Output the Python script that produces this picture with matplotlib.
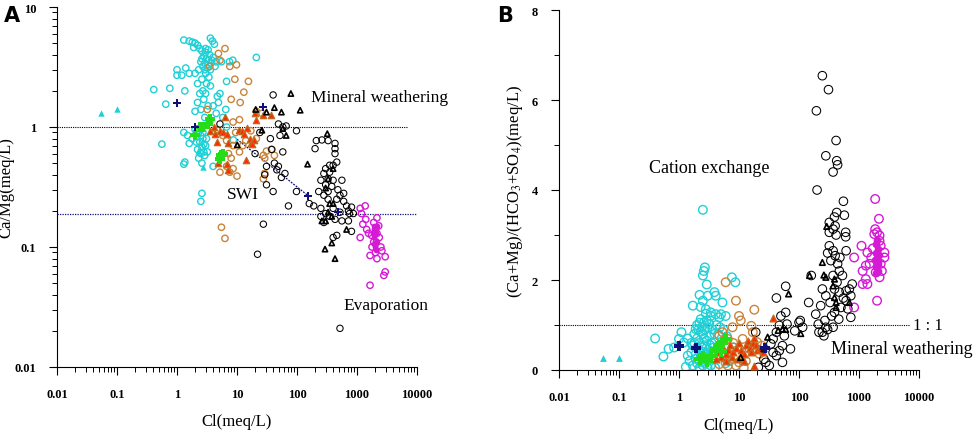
import matplotlib
matplotlib.use("Agg")
import matplotlib.pyplot as plt
from matplotlib.ticker import LogLocator, NullFormatter, FixedLocator, FuncFormatter

plt.rcParams["font.family"] = ["Liberation Serif", "DejaVu Serif"]
plt.rcParams["mathtext.fontset"] = "stix"

# ---- panel A: Cl (meq/L) vs Ca/Mg (meq/L), pairs of (cl, ratio) ----
a_cyan_circle = [
    (1.3, 5.3), (1.6, 5.2), (1.8, 5.1), (2.0, 5.0), (2.2, 4.8), (1.9, 4.6), (2.4, 4.5), (2.6, 4.3),
    (3.0, 4.2), (3.3, 4.4), (3.6, 5.5), (3.9, 5.2), (4.2, 4.9), (3.5, 4.0), (2.8, 3.9), (3.1, 3.7),
    (3.4, 3.6), (2.5, 3.5), (2.9, 3.4), (3.7, 3.4), (4.0, 3.8), (4.5, 3.5), (2.7, 3.2), (3.2, 3.1),
    (3.6, 3.0), (2.3, 3.0), (4.3, 3.2), (1.6, 2.8), (1.4, 3.1), (1.2, 2.7), (1.0, 2.7), (2.0, 2.8),
    (3.0, 2.8), (3.4, 2.6), (2.6, 2.5), (2.2, 2.3), (3.1, 2.3), (3.6, 2.2), (2.7, 2.0), (3.0, 1.9),
    (2.4, 1.9), (2.2, 1.6), (2.8, 1.7), (3.3, 1.5), (4.0, 1.5), (4.7, 1.8), (4.9, 1.6), (5.2, 1.9),
    (6.7, 2.4), (7.5, 3.5), (8.5, 3.6), (5.5, 3.5), (21, 3.8), (0.41, 2.05), (0.76, 2.1), (0.65, 1.55),
    (1.35, 2.0), (1.0, 3.0), (2.9, 3.0), (3.3, 3.3), (3.8, 3.6), (2.6, 3.7), (3.0, 4.5),
    (1.3, 0.9), (1.5, 0.85), (1.8, 0.8), (2.0, 0.95), (2.3, 0.9), (2.5, 0.85), (2.7, 0.8), (2.4, 0.75),
    (2.8, 0.72), (3.0, 0.7), (2.6, 0.68), (2.2, 0.65), (3.2, 0.62), (2.5, 0.6), (2.9, 0.58), (2.3, 0.55),
    (2.6, 0.5), (4.0, 0.47), (1.3, 0.49), (1.35, 0.51), (0.56, 0.72), (2.6, 0.28), (2.5, 0.24),
    (1.6, 0.73), (2.0, 1.35), (2.5, 1.4), (2.9, 1.2), (3.5, 1.1), (6.7, 1.0), (8.7, 0.78), (6.5, 1.4),
    (4.5, 1.3), (5.8, 1.2), (2.7, 0.9), (3.1, 0.8), (2.1, 0.75), (2.8, 0.62),
]
a_cyan_triangle = [(0.055, 1.3), (0.1, 1.42), (2.2, 0.63), (2.75, 0.46)]
a_orange_circle = [
    (4.9, 4.1), (6.3, 4.5), (9.8, 3.3), (7.6, 3.2), (9.2, 2.5), (15.5, 2.4), (13, 1.95), (11.3, 1.6),
    (8.0, 1.7), (5.2, 3.6), (3.5, 3.2), (3.2, 1.4), (8.6, 1.1), (11, 1.15), (17, 0.93), (14, 0.77),
    (8.6, 0.7), (7.2, 0.6), (8.0, 0.55), (11, 0.62), (8.6, 0.45), (10, 0.39), (7.6, 0.42), (6.7, 0.47),
    (5.2, 0.42), (5.5, 0.146), (6.3, 0.118), (27.5, 0.58), (31, 0.63), (37.5, 0.65), (29, 0.55),
    (21, 0.8), (26, 1.3), (21, 1.35), (29, 0.41), (42, 0.58), (4.6, 0.95), (6.7, 0.77), (27.5, 0.37),
    (9.5, 0.9), (12.5, 0.7), (5.8, 0.85),
]
a_red_triangle = [
    (4.1, 1.0), (5.2, 0.93), (4.3, 0.88), (5.9, 0.9), (6.7, 0.88), (4.6, 0.75), (7.2, 0.73), (6.3, 1.2),
    (11, 0.95), (12, 0.93), (13, 0.88), (16.5, 0.8), (17, 0.74), (19, 0.78), (14.5, 0.98), (20, 1.3),
    (27.5, 1.25), (37.5, 1.25), (4.9, 0.5), (6.7, 0.49), (7.2, 0.44), (14, 0.53), (3.6, 0.93),
    (21, 1.15), (18, 0.72),
]
a_green_plus = [(2.0, 0.85), (2.4, 1.0), (2.75, 1.0), (3.5, 1.17), (3.3, 1.05), (5.5, 0.58), (5.2, 0.54),
                (5.9, 0.6)]
a_navy_plus = [(1.0, 1.6), (2.0, 1.0), (27.5, 1.47), (155, 0.265), (490, 0.195)]
a_black_circle = [
    (40, 1.85), (98, 0.93), (49, 1.06), (58, 1.0), (66, 1.02), (52, 0.85), (36, 0.8), (38, 0.65),
    (58, 0.62), (42, 0.5), (49, 0.47), (46, 0.44), (55, 0.38), (31, 0.47), (29, 0.4), (31, 0.33),
    (40, 0.29), (63, 0.41), (98, 0.29), (72, 0.22), (22, 0.087), (27.5, 0.155), (520, 0.021), (5.2, 1.06),
    (200, 0.66), (210, 0.77), (260, 0.78), (330, 0.77), (430, 0.73), (430, 0.66), (430, 0.6), (460, 0.51),
    (400, 0.48), (350, 0.48), (300, 0.45), (350, 0.42), (280, 0.41), (330, 0.37), (400, 0.36), (560, 0.36),
    (250, 0.36), (300, 0.33), (380, 0.32), (230, 0.29), (280, 0.27), (330, 0.25), (460, 0.25), (600, 0.24),
    (670, 0.22), (810, 0.215), (190, 0.22), (250, 0.21), (300, 0.19), (350, 0.18), (430, 0.17),
    (560, 0.165), (720, 0.165), (250, 0.18), (280, 0.16), (400, 0.12), (460, 0.125), (750, 0.19),
    (520, 0.195), (400, 0.21), (520, 0.27), (330, 0.29), (720, 0.2), (870, 0.19), (810, 0.135),
    (20, 0.6), (24, 0.9), (160, 0.23), (600, 0.28), (480, 0.3),
]
a_black_triangle = [
    (79, 1.9), (113, 1.38), (20.5, 1.4), (31, 1.33), (42, 1.45), (55, 1.33), (26, 0.94), (58, 0.97),
    (66, 0.85), (10.1, 0.71), (150, 0.49), (320, 0.88), (293, 0.096), (380, 0.108), (430, 0.08),
    (670, 0.14), (330, 0.37), (350, 0.23), (400, 0.23), (330, 0.195), (300, 0.165), (380, 0.18),
    (260, 0.165), (300, 0.31), (400, 0.45),
]
a_magenta_circle = [
    (1130, 0.21), (1370, 0.22), (1190, 0.19), (1250, 0.155), (1450, 0.14), (1130, 0.12), (1750, 0.125),
    (2150, 0.175), (2150, 0.13), (2350, 0.12), (2500, 0.1), (2600, 0.093), (2950, 0.083), (2030, 0.09),
    (1650, 0.085), (2150, 0.08), (2950, 0.062), (2800, 0.058), (1650, 0.048), (1560, 0.13), (1900, 0.11),
    (1780, 0.1), (2030, 0.14), (1400, 0.17), (2300, 0.15), (1900, 0.16), (2100, 0.11),
]
a_magenta_fill = [(1900, 0.15), (2000, 0.14), (2100, 0.13), (1950, 0.12), (2050, 0.11), (1900, 0.105),
                  (2000, 0.1), (2100, 0.095), (1850, 0.13), (2150, 0.15)]

# ---- panel B: Cl (meq/L) vs (Ca+Mg)/(HCO3+SO4) ----
b_cyan_circle = [
    (2.5, 3.56), (2.6, 2.2), (2.5, 2.1), (2.7, 2.28), (2.9, 1.9), (2.2, 1.67), (3.9, 1.73), (4.1, 1.65),
    (3.0, 1.65), (5.3, 1.5), (7.6, 2.06), (8.7, 1.95), (1.7, 1.43), (2.5, 1.54), (2.8, 1.35), (3.4, 1.28),
    (4.1, 1.24), (5.0, 1.24), (2.3, 1.13), (3.2, 1.02), (4.7, 1.17), (6.0, 1.2), (0.4, 0.7), (0.55, 0.3),
    (0.67, 0.47), (0.83, 0.5), (1.1, 0.84), (1.0, 0.69), (1.2, 0.61), (1.3, 0.07), (1.4, 0.32),
    (1.6, 0.39), (1.7, 0.54), (1.9, 0.91), (1.8, 0.8), (2.0, 0.7), (2.2, 0.6), (2.4, 0.5), (2.6, 0.4),
    (2.8, 0.3), (2.2, 0.2), (2.5, 0.1), (3.0, 0.05), (2.0, 0.15), (1.9, 0.35), (2.3, 0.85), (2.7, 0.9),
    (3.2, 0.75), (3.5, 0.6), (3.8, 0.5), (3.0, 0.2), (2.1, 0.45), (2.9, 0.65), (3.3, 0.35), (2.4, 0.95),
    (2.6, 1.05), (2.0, 1.0), (3.6, 0.9), (4.2, 1.0), (4.8, 0.95), (4.5, 0.8), (5.5, 0.9), (6.3, 0.75),
    (7.0, 0.2), (6.0, 0.15), (4.0, 0.05), (8.0, 0.5), (2.3, 0.3), (2.7, 0.15), (3.4, 0.1), (1.5, 0.2),
    (2.1, 0.9), (2.9, 1.1), (3.1, 0.45), (2.4, 0.25), (2.7, 0.55), (1.8, 0.6), (2.2, 0.05), (2.6, 0.7),
    (3.6, 0.25), (3.9, 0.8), (1.7, 0.1), (2.0, 0.5), (3.4, 1.2), (2.8, 1.25), (2.3, 1.4), (1.4, 0.7),
    (1.9, 0.25), (2.5, 0.8), (3.0, 0.95), (3.3, 0.55), (2.2, 1.05), (2.7, 0.35), (1.6, 0.6), (3.7, 0.4),
]
b_cyan_triangle = [(0.055, 0.27), (0.1, 0.27)]
b_orange_circle = [
    (6.0, 1.95), (8.9, 1.54), (18, 1.34), (7.8, 0.95), (10.7, 1.1), (16, 0.98), (10, 1.2), (5.3, 0.84),
    (4.7, 0.76), (6.5, 0.69), (8.2, 0.5), (10, 0.17), (8.9, 0.1), (13, 0.2), (15, 0.47), (20, 0.62),
    (24, 0.54), (22, 0.36), (7.3, 0.4), (5.7, 0.28), (4.7, 0.13), (4.1, 0.32), (11.5, 0.69), (17, 0.84),
    (8.0, 0.6), (12, 0.05), (6.5, 0.1),
]
b_red_triangle = [
    (37, 1.15), (18, 0.1), (4.5, 0.4), (5.0, 0.3), (5.5, 0.5), (6.0, 0.35), (6.5, 0.45), (7.0, 0.55),
    (7.5, 0.3), (8.0, 0.4), (9.0, 0.5), (10, 0.6), (11, 0.45), (12, 0.35), (13, 0.55), (14, 0.65),
    (15, 0.5), (16, 0.4), (17, 0.6), (18, 0.72), (19, 0.55), (20, 0.45), (4.2, 0.25), (6.0, 0.2),
    (9.5, 0.25), (12, 0.2), (22, 0.5), (25, 0.4),
]
b_green_plus = [(2.9, 0.2), (2.5, 0.28), (2.2, 0.25), (3.4, 0.32), (4.7, 0.54), (5.3, 0.61), (6.0, 0.69),
                (5.0, 0.43), (4.1, 0.47)]
b_navy_plus = [(1.0, 0.54), (1.9, 0.48), (27.5, 0.48)]
b_black_circle = [
    (245, 6.54), (310, 6.23), (195, 5.76), (415, 5.1), (280, 4.76), (425, 4.65), (440, 4.56), (370, 4.4),
    (200, 4.0), (550, 3.75), (425, 3.5), (390, 3.4), (320, 3.28), (400, 3.2), (570, 3.44), (370, 3.13),
    (320, 3.06), (415, 3.0), (600, 3.06), (600, 2.96), (320, 2.76), (370, 2.65), (400, 2.54), (300, 2.6),
    (610, 2.65), (340, 2.43), (440, 2.36), (470, 2.2), (530, 2.1), (370, 2.1), (160, 2.1), (145, 1.5),
    (245, 1.8), (280, 1.65), (390, 1.8), (470, 1.73), (610, 1.76), (690, 1.8), (770, 1.91), (730, 1.65),
    (610, 1.54), (500, 1.39), (650, 1.36), (730, 1.17), (230, 1.43), (190, 1.24), (210, 1.02),
    (215, 0.84), (245, 0.84), (280, 0.95), (260, 0.76), (370, 0.95), (460, 1.13), (390, 1.28),
    (60, 1.86), (42, 1.6), (60, 1.28), (50, 1.2), (63, 1.02), (72, 0.47), (100, 1.06), (105, 1.1),
    (47, 0.99), (42, 0.84), (53, 0.54), (53, 0.17), (37, 0.69), (42, 0.32), (28, 0.17), (32, 0.1),
    (21, 0.06), (26, 0.24), (19, 0.84), (34, 0.58), (47, 0.43), (57, 0.76), (85, 0.87), (115, 0.95),
    (37, 0.39), (330, 1.5), (430, 1.95), (550, 1.6), (480, 2.5), (350, 1.2), (270, 1.1), (300, 0.9),
]
b_black_triangle = [
    (290, 3.19), (245, 2.39), (260, 2.11), (280, 2.06), (150, 2.1), (67, 1.69), (107, 0.81), (30, 0.73),
    (10.7, 0.28), (370, 1.87), (390, 1.61), (415, 1.39), (690, 1.5), (390, 2.02), (53, 0.91),
    (415, 1.5), (26, 0.47), (45, 0.88), (60, 0.9),
]
b_magenta_circle = [
    (1860, 3.8), (2150, 3.36), (1860, 3.13), (2000, 3.06), (1800, 3.02), (2200, 2.99), (1100, 2.76),
    (830, 2.5), (1380, 2.61), (2650, 2.61), (2650, 2.5), (2300, 2.36), (1500, 2.36), (1300, 2.32),
    (1150, 2.2), (1900, 2.17), (2200, 2.06), (1300, 2.02), (1150, 1.91), (1380, 1.91), (2000, 1.54),
    (830, 1.39), (2300, 2.76), (2200, 2.87), (1700, 2.7), (1600, 2.5), (2400, 2.2),
]
b_magenta_fill = [(1900, 2.6), (2000, 2.5), (2100, 2.4), (1950, 2.3), (2050, 2.2), (1900, 2.8),
                  (2100, 2.7), (2000, 2.9), (1850, 2.45), (2150, 2.55), (1950, 2.15), (2050, 2.35)]

CYAN = "#1fd0d6"
ORANGE = "#c9843c"
RED_EDGE = "#c06a1e"
RED = "#ff2a00"
GREEN = "#22dd18"
NAVY = "#10107a"
MAGENTA = "#d41ad4"


def xy(pairs):
    return [p[0] for p in pairs], [p[1] for p in pairs]


def draw_points(ax, groups, s_circle, s_tri, s_plus):
    (cyan_c, cyan_t, orange_c, red_t, green_p, navy_p, black_c, black_t, mag_c, mag_f) = groups
    ax.scatter(*xy(cyan_c), s=s_circle, facecolors="none", edgecolors=CYAN, linewidths=1.0, zorder=3)
    ax.scatter(*xy(orange_c), s=s_circle, facecolors="none", edgecolors=ORANGE, linewidths=1.0, zorder=3)
    ax.scatter(*xy(black_c), s=s_circle, facecolors="none", edgecolors="black", linewidths=0.75, zorder=3)
    ax.scatter(*xy(mag_f), s=s_circle * 0.8, c=MAGENTA, linewidths=0, zorder=3)
    ax.scatter(*xy(mag_c), s=s_circle, facecolors="none", edgecolors=MAGENTA, linewidths=1.0, zorder=3)
    ax.scatter(*xy(cyan_t), s=s_tri * 1.5, marker="^", c=CYAN, linewidths=0, zorder=4)
    ax.scatter(*xy(red_t), s=s_tri * 1.5, marker="^", facecolors=RED, edgecolors=RED_EDGE,
               linewidths=0.9, zorder=4)
    ax.scatter(*xy(black_t), s=s_tri, marker="^", facecolors="none", edgecolors="black",
               linewidths=1.2, zorder=4)
    ax.scatter(*xy(green_p), s=s_plus * 1.5, marker="P", c=GREEN, linewidths=0, zorder=5)
    ax.scatter(*xy(navy_p), s=s_plus, marker="P", c=NAVY, linewidths=0, zorder=5)


def style_axes(ax):
    for side in ("top", "right"):
        ax.spines[side].set_visible(False)
    ax.spines["left"].set_linewidth(0.8)
    ax.spines["bottom"].set_linewidth(0.8)
    ax.set_xscale("log")
    ax.set_xlim(0.01, 10000)
    ax.xaxis.set_major_locator(FixedLocator([0.01, 0.1, 1, 10, 100, 1000, 10000]))
    ax.xaxis.set_minor_locator(LogLocator(base=10, subs=range(2, 10), numticks=20))
    ax.xaxis.set_minor_formatter(NullFormatter())
    ax.xaxis.set_major_formatter(FuncFormatter(lambda v, _: f"{v:g}"))
    ax.tick_params(which="major", direction="out", length=6, width=0.8, pad=9, labelsize=9)
    ax.tick_params(which="minor", direction="out", length=3.5, width=0.7)
    for lbl in ax.get_xticklabels() + ax.get_yticklabels():
        lbl.set_fontweight("bold")


fig = plt.figure(figsize=(9.76, 4.35), dpi=100)
ax_a = fig.add_axes([57 / 976, 1 - 368 / 435, 360 / 976, 360 / 435])
ax_b = fig.add_axes([559 / 976, 1 - 371 / 435, 360 / 976, 360 / 435])

# panel A
draw_points(ax_a, (a_cyan_circle, a_cyan_triangle, a_orange_circle, a_red_triangle, a_green_plus,
                   a_navy_plus, a_black_circle, a_black_triangle, a_magenta_circle, a_magenta_fill),
            s_circle=21, s_tri=14, s_plus=32)
ax_a.set_yscale("log")
ax_a.set_ylim(0.01, 10)
ax_a.yaxis.set_major_locator(FixedLocator([0.01, 0.1, 1, 10]))
ax_a.yaxis.set_minor_locator(LogLocator(base=10, subs=range(2, 10), numticks=20))
ax_a.yaxis.set_minor_formatter(NullFormatter())
ax_a.yaxis.set_major_formatter(FuncFormatter(lambda v, _: f"{v:g}"))
style_axes(ax_a)
ax_a.plot([0.01, 7000], [1, 1], ls=(0, (1, 1)), color="black", lw=0.8, zorder=2)
ax_a.plot([0.01, 10000], [0.19, 0.19], ls=(0, (1, 1)), color=NAVY, lw=0.9, zorder=2)
ax_a.plot([10, 165], [0.79, 0.26], ls=(0, (1.5, 1)), color=NAVY, lw=0.9, zorder=2)
ax_a.text(170, 1.78, "Mineral weathering", fontsize=12.5, va="center", ha="left")
ax_a.text(6.8, 0.275, "SWI", fontsize=12.5, va="center", ha="left")
ax_a.text(590, 0.033, "Evaporation", fontsize=12.5, va="center", ha="left")
ax_a.set_xlabel("Cl(meq/L)", fontsize=12)
ax_a.set_ylabel("Ca/Mg(meq/L)", fontsize=12)
ax_a.xaxis.set_label_coords(0.5, -0.128)
ax_a.yaxis.set_label_coords(-0.118, 0.5)

# panel B
draw_points(ax_b, (b_cyan_circle, b_cyan_triangle, b_orange_circle, b_red_triangle, b_green_plus,
                   b_navy_plus, b_black_circle, b_black_triangle, b_magenta_circle, b_magenta_fill),
            s_circle=38, s_tri=16, s_plus=45)
ax_b.set_ylim(0, 8)
ax_b.yaxis.set_major_locator(FixedLocator([0, 2, 4, 6, 8]))
ax_b.yaxis.set_minor_locator(FixedLocator([1, 3, 5, 7]))
ax_b.yaxis.set_major_formatter(FuncFormatter(lambda v, _: f"{v:g}"))
style_axes(ax_b)
ax_b.plot([0.01, 6800], [1, 1], ls=(0, (1, 1)), color="black", lw=0.8, zorder=2)
ax_b.text(7900, 1.0, "1 : 1", fontsize=12, va="center", ha="left")
ax_b.text(0.316, 4.49, "Cation exchange", fontsize=13, va="center", ha="left")
ax_b.text(340, 0.47, "Mineral weathering", fontsize=13, va="center", ha="left", clip_on=False)
ax_b.set_xlabel("Cl(meq/L)", fontsize=12)
ax_b.set_ylabel("(Ca+Mg)/(HCO$_3$+SO$_4$)(meq/L)", fontsize=12)
ax_b.xaxis.set_label_coords(0.5, -0.13)
ax_b.yaxis.set_label_coords(-0.095, 0.5)

fig.text(4 / 976, 1 - 16 / 435, "A", fontsize=15, fontweight="bold", family="DejaVu Sans", va="center")
fig.text(497 / 976, 1 - 16 / 435, "B", fontsize=15, fontweight="bold", family="DejaVu Sans", va="center")

fig.savefig("out.png", dpi=100)
